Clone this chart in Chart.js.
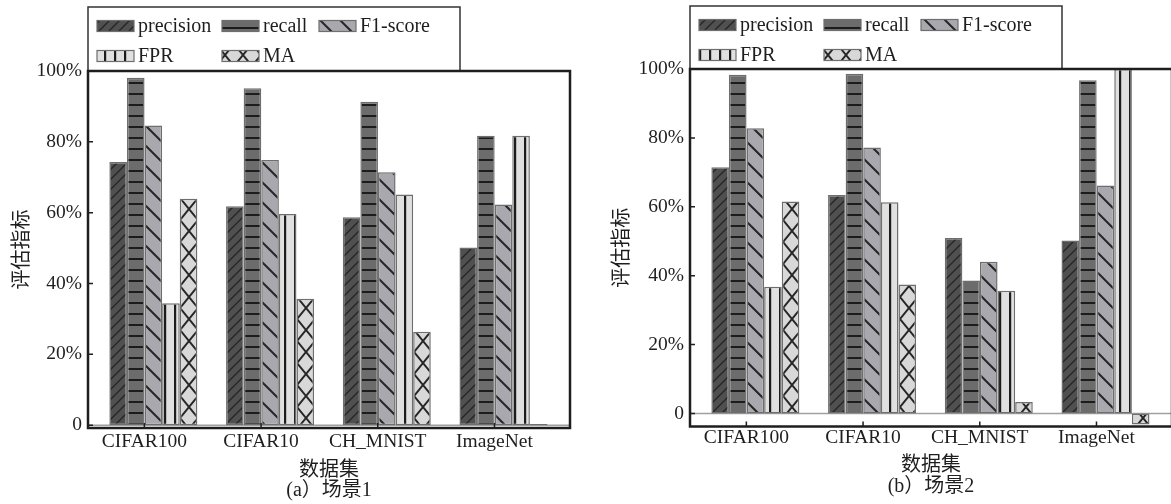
<!DOCTYPE html>
<html>
<head>
<meta charset="utf-8">
<title>评估指标 — 场景1 / 场景2</title>
<script src="https://cdn.jsdelivr.net/npm/chart.js@4.4.1/dist/chart.umd.min.js"></script>
<style>
  html, body { margin: 0; padding: 0; background: #fff; overflow: hidden; }
  body { width: 1171px; height: 504px; position: relative; }
  #c1 { position: absolute; left: 0; top: 0; }
  #c2 { position: absolute; left: 585px; top: 0; }
</style>
</head>
<body>
<canvas id="c1" width="585" height="504"></canvas>
<canvas id="c2" width="600" height="504"></canvas>
<script>
const categories = ["CIFAR100", "CIFAR10", "CH_MNIST", "ImageNet"];
const seriesNames = ["precision", "recall", "F1-score", "FPR", "MA"];

// (a) 场景1
const precision1 = [74.3, 61.8, 58.7, 50.2];
const recall1    = [98.1, 95.1, 91.3, 81.7];
const f1Score1   = [84.6, 74.9, 71.4, 62.3];
const fpr1       = [34.4, 59.6, 65.1, 81.7];
const ma1        = [63.9, 35.7, 26.4, 0.3];

// (b) 场景2
const precision2 = [71.5, 63.4, 50.9, 50.2];
const recall2    = [98.3, 98.6, 38.6, 96.7];
const f1Score2   = [82.8, 77.2, 44.0, 66.2];
const fpr2       = [36.8, 61.3, 35.6, 100];
const ma2        = [61.5, 37.4, 3.3, -3.2];

const yTicks = [0, 20, 40, 60, 80, 100];
const yTickLabels = ["0", "20%", "40%", "60%", "80%", "100%"];
const xRange = [0.44, 4.57];

const INK = "#1e1e1e";
Chart.defaults.font.family = '"Liberation Serif", "Noto Sans CJK SC", serif';
Chart.defaults.color = INK;

// hatch fills (grayscale print style)
function tile(w, h, bg, draw) {
  const c = document.createElement("canvas");
  c.width = w; c.height = h;
  const g = c.getContext("2d");
  g.fillStyle = bg;
  g.fillRect(0, 0, w, h);
  g.strokeStyle = "#262626";
  g.fillStyle = "#1c1c1c";
  draw(g, w, h);
  return g.createPattern(c, "repeat");
}

const patterns = [
  tile(10, 10, "#505050", (g, w, h) => {          // precision  ///
    g.lineWidth = 1.4;
    g.beginPath();
    g.moveTo(0, h); g.lineTo(w, 0);
    g.moveTo(-2, 2); g.lineTo(2, -2);
    g.moveTo(w - 2, h + 2); g.lineTo(w + 2, h - 2);
    g.stroke();
  }),
  tile(4, 11, "#6c6c6c", (g, w) => {              // recall  ===
    g.fillRect(0, 5, w, 2);
  }),
  tile(20, 20, "#a8a8ae", (g, w, h) => {          // F1-score  \\\
    g.lineWidth = 2;
    g.beginPath();
    g.moveTo(0, 0); g.lineTo(w, h);
    g.moveTo(w - 2, -2); g.lineTo(w + 2, 2);
    g.moveTo(-2, h - 2); g.lineTo(2, h + 2);
    g.stroke();
  }),
  tile(10, 4, "#e0e0e0", (g, w, h) => {           // FPR  |||
    g.fillRect(4, 0, 2.2, h);
  }),
  tile(18, 22, "#d8d8d8", (g, w, h) => {          // MA  XXX
    g.lineWidth = 2;
    g.beginPath();
    g.moveTo(0, 0); g.lineTo(w, h);
    g.moveTo(w, 0); g.lineTo(0, h);
    g.moveTo(w - 1.8, -2.2); g.lineTo(w + 1.8, 2.2);
    g.moveTo(-1.8, h - 2.2); g.lineTo(1.8, h + 2.2);
    g.moveTo(1.8, -2.2); g.lineTo(-1.8, 2.2);
    g.moveTo(w + 1.8, h - 2.2); g.lineTo(w - 1.8, h + 2.2);
    g.stroke();
  })
];

// zero line, boxed frame, inward ticks, boxed legend
const framePlugin = {
  id: "frame",
  beforeDatasetsDraw(chart) {
    const { ctx, chartArea: a } = chart;
    const y0 = chart.scales.y.getPixelForValue(0);
    ctx.save();
    ctx.strokeStyle = "#a0a0a0";
    ctx.lineWidth = 1.5;
    ctx.beginPath();
    ctx.moveTo(a.left, y0);
    ctx.lineTo(a.right, y0);
    ctx.stroke();
    ctx.restore();
  },
  afterDraw(chart, args, opts) {
    const { ctx, chartArea: a, scales: { x, y } } = chart;
    ctx.save();

    // legend box
    const bx = a.left, by = opts.legendTop, bw = 372, bh = a.top - by;
    ctx.fillStyle = "#fff";
    ctx.fillRect(bx, by, bw, bh);
    ctx.strokeStyle = "#333";
    ctx.lineWidth = 1.5;
    ctx.strokeRect(bx, by, bw, bh);
    const cols = [9, 134, 231];
    ctx.font = '20px "Liberation Serif"';
    ctx.textBaseline = "middle";
    ctx.textAlign = "left";
    chart.data.datasets.forEach((ds, k) => {
      const row = k < 3 ? 0 : 1;
      const col = k < 3 ? k : k - 3;
      const sx = bx + cols[col], sy = by + 19 + row * 30;
      ctx.fillStyle = ds.backgroundColor;
      ctx.fillRect(sx, sy - 5.5, 37, 11);
      ctx.strokeStyle = ds.borderColor;
      ctx.lineWidth = 1.2;
      ctx.strokeRect(sx, sy - 5.5, 37, 11);
      ctx.fillStyle = INK;
      ctx.fillText(ds.label, sx + 41, sy + 1);
    });

    // frame
    ctx.strokeStyle = INK;
    ctx.lineWidth = 2.5;
    ctx.strokeRect(a.left, a.top, a.right - a.left, a.bottom - a.top);

    // ticks pointing into the plot
    ctx.lineWidth = 1.5;
    ctx.beginPath();
    y.ticks.forEach(t => {
      const py = y.getPixelForValue(t.value);
      ctx.moveTo(a.left, py);
      ctx.lineTo(a.left + 5, py);
    });
    x.ticks.forEach(t => {
      const px = x.getPixelForValue(t.value) + x.options.ticks.labelOffset;
      ctx.moveTo(px, a.bottom);
      ctx.lineTo(px, a.bottom - 5);
    });
    ctx.stroke();
    ctx.restore();
  }
};

function makeChart(id, series, cfg) {
  const datasets = series.map((vals, k) => ({
    label: seriesNames[k],
    data: vals.map((v, i) => ({ x: i + 1, y: v })),
    backgroundColor: patterns[k],
    borderColor: "#6e6e6e",
    borderWidth: 1.5,
    borderSkipped: false,
    categoryPercentage: 0.754,
    barPercentage: 1
  }));

  return new Chart(document.getElementById(id), {
    type: "bar",
    data: { datasets },
    options: {
      responsive: false,
      animation: false,
      events: [],
      layout: { padding: cfg.padding },
      plugins: {
        legend: { display: false },
        tooltip: { enabled: false },
        title: {
          display: true,
          position: "bottom",
          fullSize: false,
          text: cfg.caption,
          color: INK,
          font: { size: 20, weight: "normal" },
          padding: 0
        },
        frame: { legendTop: cfg.legendTop }
      },
      scales: {
        x: {
          type: "linear",
          min: xRange[0],
          max: xRange[1],
          offset: false,
          grid: { display: false, drawTicks: false },
          border: { display: false },
          afterBuildTicks: s => { s.ticks = categories.map((c, i) => ({ value: i + 1 })); },
          afterFit: s => { s.height = cfg.xHeight; },
          ticks: {
            callback: v => categories[v - 1],
            padding: cfg.xPad,
            labelOffset: -9,
            autoSkip: false,
            maxRotation: 0,
            color: INK,
            font: { size: 19.5 }
          },
          title: {
            display: true,
            text: "数据集",
            color: INK,
            font: { size: 20 },
            padding: { top: 0, bottom: cfg.xTitlePad }
          }
        },
        y: {
          min: cfg.yRange[0],
          max: cfg.yRange[1],
          grid: { display: false, drawTicks: false },
          border: { display: false },
          afterBuildTicks: s => { s.ticks = yTicks.map(v => ({ value: v })); },
          afterFit: s => { s.width = cfg.yWidth; },
          ticks: {
            callback: v => yTickLabels[yTicks.indexOf(v)],
            padding: 6,
            color: INK,
            font: { size: 19.5 }
          },
          title: {
            display: true,
            text: "评估指标",
            color: INK,
            font: { size: 20 },
            padding: { top: cfg.yTitlePad, bottom: 0 }
          }
        }
      }
    },
    plugins: [framePlugin]
  });
}

makeChart("c1", [precision1, recall1, f1Score1, fpr1, ma1], {
  caption: "(a）场景1",
  padding: { left: 0, top: 71, right: 15, bottom: 1 },
  yRange: [-0.8, 100],
  yWidth: 88, xHeight: 51, xPad: 2, xTitlePad: -4, yTitlePad: 11, legendTop: 7
});

makeChart("c2", [precision2, recall2, f1Score2, fpr2, ma2], {
  caption: "(b）场景2",
  padding: { left: 0, top: 69, right: 13, bottom: 5 },
  yRange: [-3.8, 100],
  yWidth: 105, xHeight: 48.5, xPad: 0, xTitlePad: -3, yTitlePad: 26, legendTop: 6
});
</script>
</body>
</html>
